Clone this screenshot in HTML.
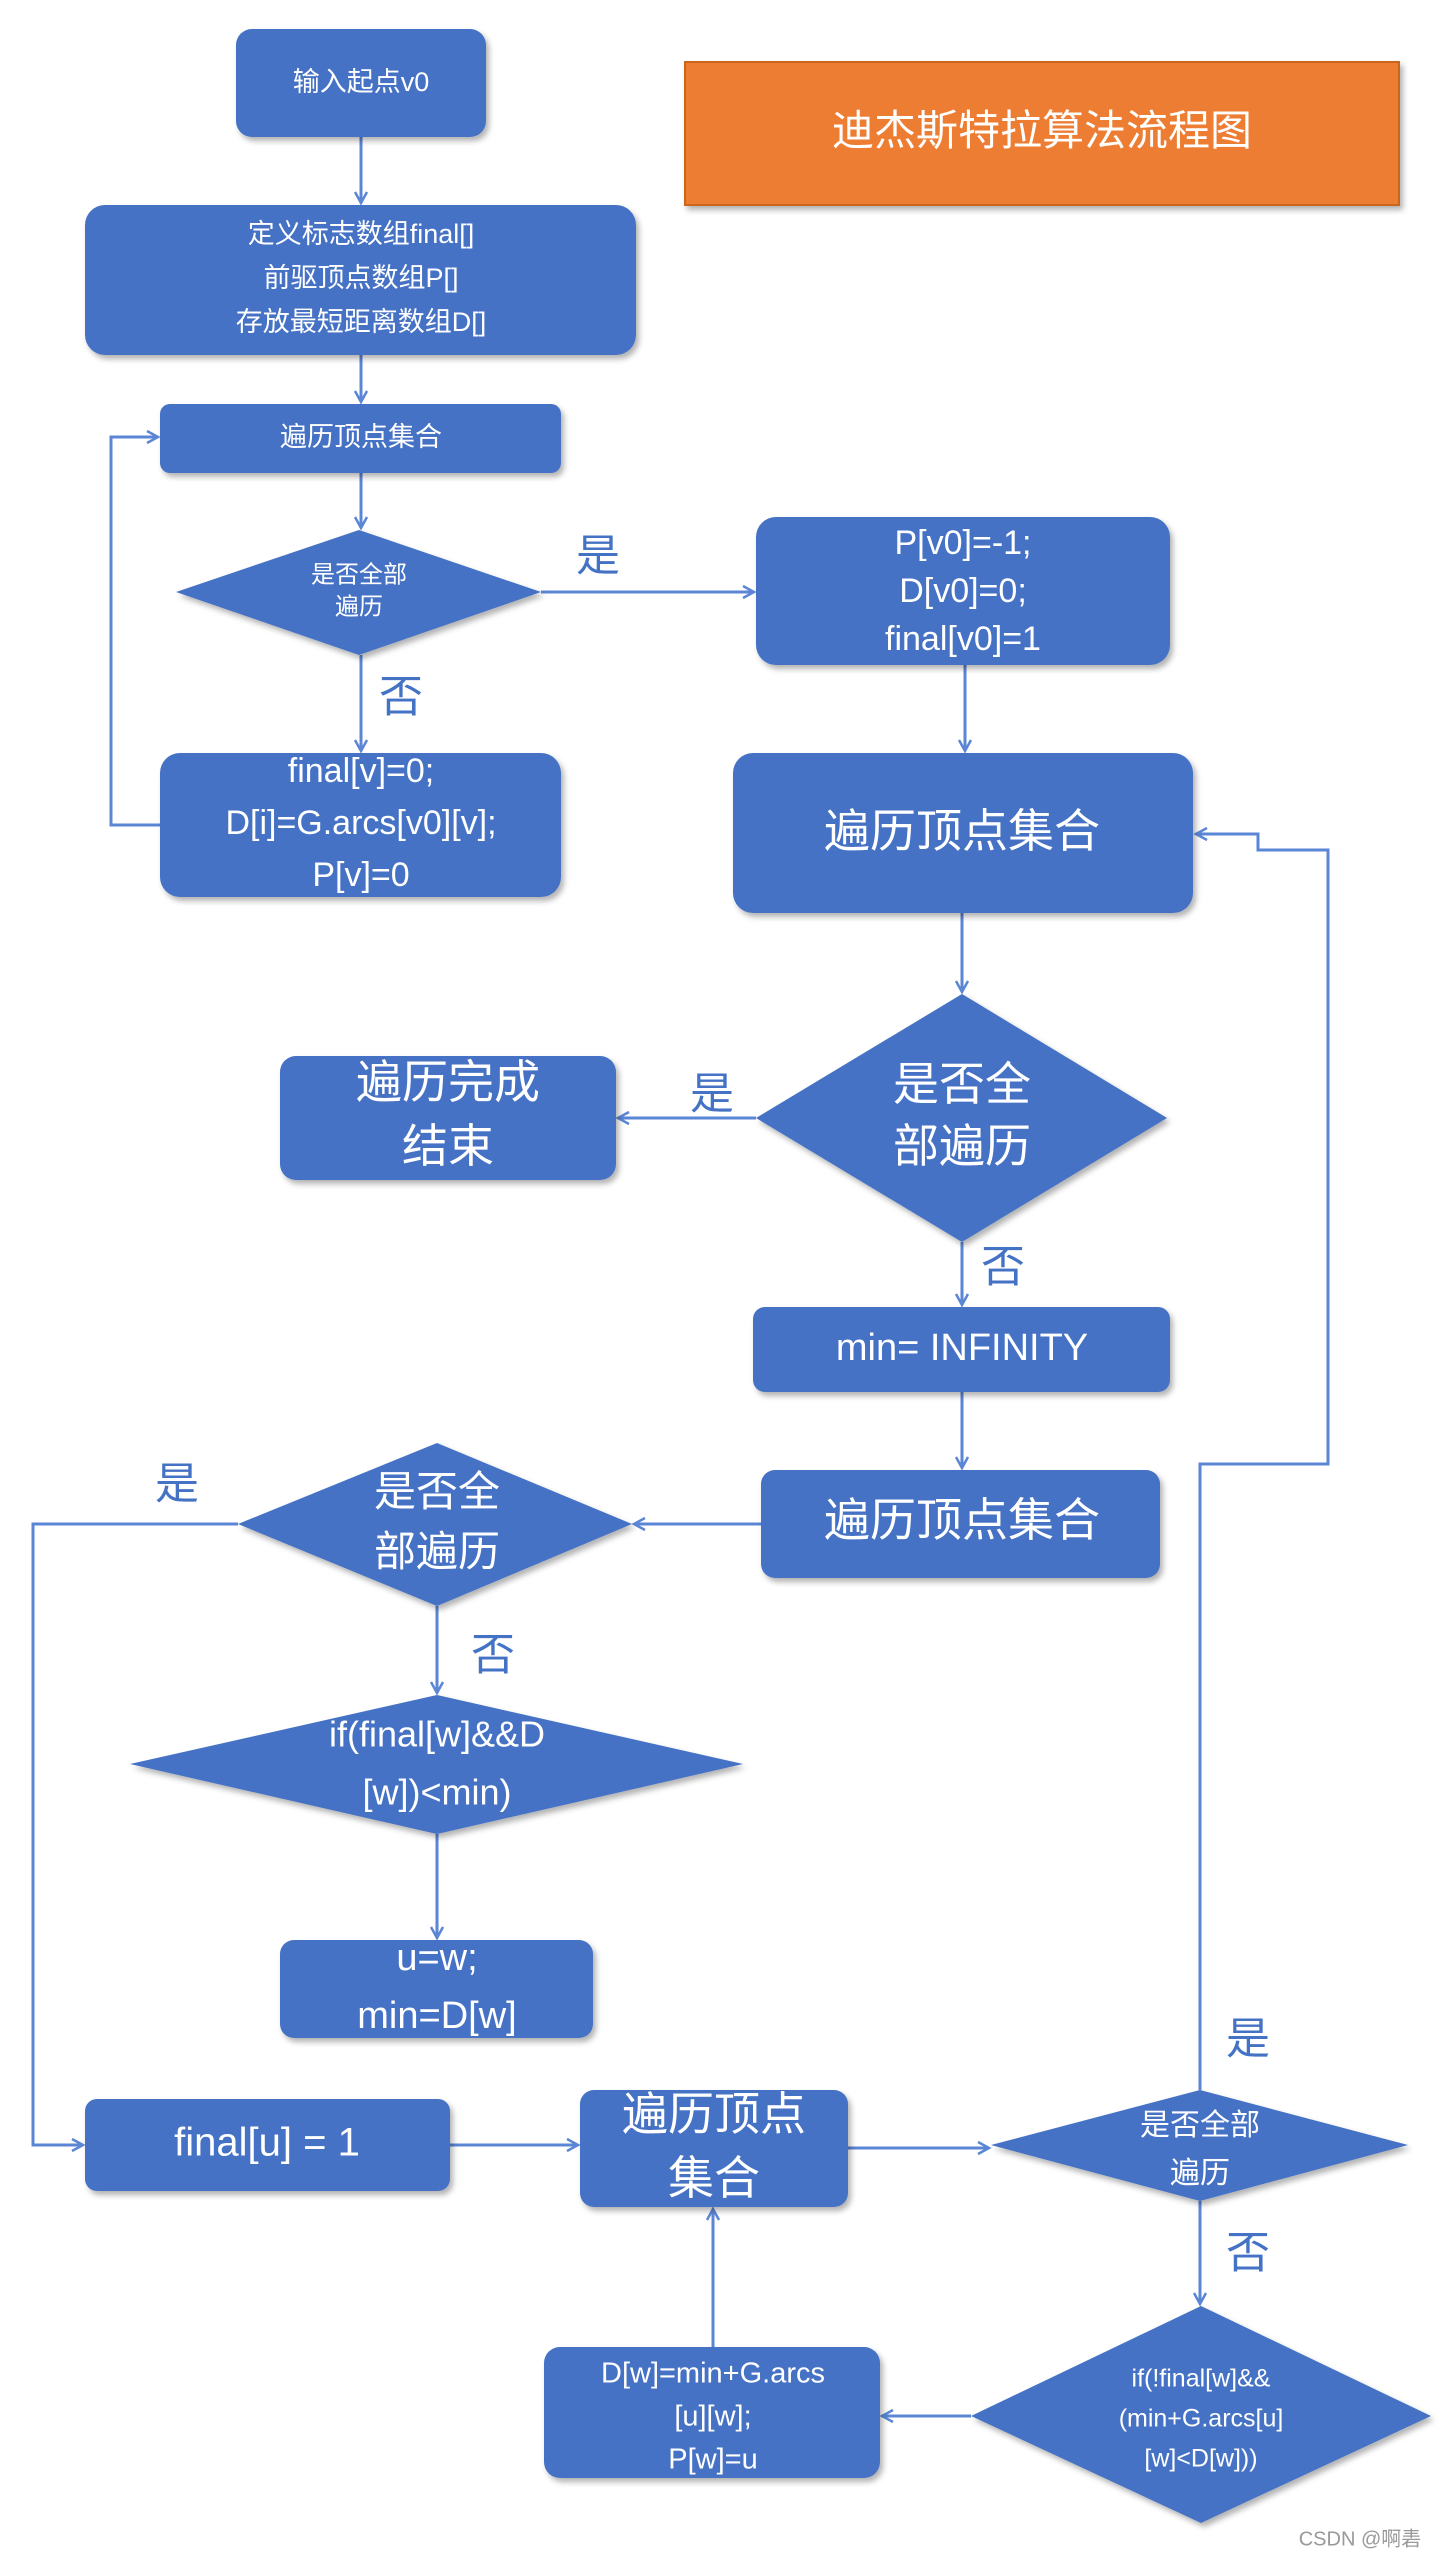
<!DOCTYPE html>
<html><head><meta charset="utf-8"><style>
html,body{margin:0;padding:0;background:#fff;}
svg{display:block;}
text{font-family:"Liberation Sans","Noto Sans CJK SC",sans-serif;fill:#fff;text-anchor:middle;dominant-baseline:middle;}
.l{fill:#4472C4;}
.b{fill:#4472C4;}
.c{stroke:#5B86D6;stroke-width:3;fill:none;}
</style></head><body>
<svg width="1440" height="2560" viewBox="0 0 1440 2560" xmlns="http://www.w3.org/2000/svg">
<defs>
<filter id="s" x="-10%" y="-10%" width="130%" height="140%"><feDropShadow dx="3" dy="4" stdDeviation="3" flood-color="#000" flood-opacity="0.3"/></filter>
<marker id="a" markerWidth="16" markerHeight="16" refX="13" refY="8" orient="auto" markerUnits="userSpaceOnUse"><path d="M2,2 L13,8 L2,14" fill="none" stroke="#5B86D6" stroke-width="2.5"/></marker>
</defs>
<g class="c" marker-end="url(#a)">
<line x1="361" y1="137" x2="361" y2="203"/>
<line x1="361" y1="355" x2="361" y2="402"/>
<line x1="361" y1="473" x2="361" y2="528"/>
<line x1="541" y1="592" x2="754" y2="592"/>
<line x1="361" y1="655" x2="361" y2="751"/>
<polyline points="160,825 111,825 111,437 158,437"/>
<line x1="965" y1="665" x2="965" y2="751"/>
<line x1="962" y1="913" x2="962" y2="992"/>
<line x1="756" y1="1118" x2="618" y2="1118"/>
<line x1="962" y1="1242" x2="962" y2="1305"/>
<line x1="962" y1="1392" x2="962" y2="1468"/>
<line x1="761" y1="1524" x2="634" y2="1524"/>
<polyline points="238,1524 33,1524 33,2145 83,2145"/>
<line x1="437" y1="1606" x2="437" y2="1693"/>
<line x1="437" y1="1834" x2="437" y2="1938"/>
<line x1="450" y1="2145" x2="578" y2="2145"/>
<line x1="848" y1="2148" x2="989" y2="2148"/>
<polyline points="1200,2090 1200,1464 1328,1464 1328,850 1258,850 1258,834 1196,834"/>
<line x1="1200" y1="2201" x2="1200" y2="2304"/>
<line x1="971" y1="2416" x2="882" y2="2416"/>
<line x1="713" y1="2347" x2="713" y2="2209"/>
</g>
<g filter="url(#s)">
<rect x="685" y="62" width="714" height="143" fill="#ED7D31" stroke="#C9661F" stroke-width="2"/>
<rect class="b" x="236" y="29" width="250" height="108" rx="16"/>
<rect class="b" x="85" y="205" width="551" height="150" rx="20"/>
<rect class="b" x="160" y="404" width="401" height="69" rx="10"/>
<polygon class="b" points="176,592 359,530 541,592 359,655"/>
<rect class="b" x="756" y="517" width="414" height="148" rx="20"/>
<rect class="b" x="160" y="753" width="401" height="144" rx="20"/>
<rect class="b" x="733" y="753" width="460" height="160" rx="20"/>
<polygon class="b" points="756,1118 962,994 1167,1118 962,1242"/>
<rect class="b" x="280" y="1056" width="336" height="124" rx="16"/>
<rect class="b" x="753" y="1307" width="417" height="85" rx="12"/>
<rect class="b" x="761" y="1470" width="399" height="108" rx="14"/>
<polygon class="b" points="238,1524 437,1443 632,1524 437,1606"/>
<polygon class="b" points="130,1764 437,1695 743,1764 437,1834"/>
<rect class="b" x="280" y="1940" width="313" height="98" rx="14"/>
<rect class="b" x="85" y="2099" width="365" height="92" rx="12"/>
<rect class="b" x="580" y="2090" width="268" height="117" rx="14"/>
<polygon class="b" points="991,2145 1200,2090 1408,2145 1200,2201"/>
<polygon class="b" points="971,2416 1201,2306 1431,2416 1201,2523"/>
<rect class="b" x="544" y="2347" width="336" height="131" rx="16"/>
</g>
<text x="1042" y="134" font-size="42">迪杰斯特拉算法流程图</text>
<text x="361" y="84" font-size="27">输入起点v0</text>
<text x="361" y="236" font-size="27">定义标志数组final[]</text>
<text x="361" y="280" font-size="27">前驱顶点数组P[]</text>
<text x="361" y="324" font-size="27">存放最短距离数组D[]</text>
<text x="361" y="439" font-size="27">遍历顶点集合</text>
<text x="359" y="576" font-size="24">是否全部</text>
<text x="359" y="608" font-size="24">遍历</text>
<text x="963" y="545" font-size="34">P[v0]=-1;</text>
<text x="963" y="593" font-size="34">D[v0]=0;</text>
<text x="963" y="641" font-size="34">final[v0]=1</text>
<text x="361" y="773" font-size="34">final[v]=0;</text>
<text x="361" y="825" font-size="34">D[i]=G.arcs[v0][v];</text>
<text x="361" y="877" font-size="34">P[v]=0</text>
<text x="962" y="835" font-size="46">遍历顶点集合</text>
<text x="962" y="1088" font-size="46">是否全</text>
<text x="962" y="1150" font-size="46">部遍历</text>
<text x="448" y="1086" font-size="46">遍历完成</text>
<text x="448" y="1150" font-size="46">结束</text>
<text x="962" y="1350" font-size="38">min= INFINITY</text>
<text x="962" y="1524" font-size="46">遍历顶点集合</text>
<text x="437" y="1495" font-size="42">是否全</text>
<text x="437" y="1555" font-size="42">部遍历</text>
<text x="437" y="1737" font-size="36">if(final[w]&amp;&amp;D</text>
<text x="437" y="1795" font-size="36">[w])&lt;min)</text>
<text x="437" y="1960" font-size="38">u=w;</text>
<text x="437" y="2018" font-size="38">min=D[w]</text>
<text x="267" y="2145" font-size="40">final[u] = 1</text>
<text x="714" y="2118" font-size="46">遍历顶点</text>
<text x="714" y="2182" font-size="46">集合</text>
<text x="1200" y="2127" font-size="30">是否全部</text>
<text x="1200" y="2175" font-size="30">遍历</text>
<text x="1201" y="2380" font-size="25">if(!final[w]&amp;&amp;</text>
<text x="1201" y="2420" font-size="25">(min+G.arcs[u]</text>
<text x="1201" y="2460" font-size="25">[w]&lt;D[w]))</text>
<text x="713" y="2375" font-size="29">D[w]=min+G.arcs</text>
<text x="713" y="2418" font-size="29">[u][w];</text>
<text x="713" y="2461" font-size="29">P[w]=u</text>
<g font-size="44">
<text class="l" x="598" y="559">是</text>
<text class="l" x="401" y="700">否</text>
<text class="l" x="712" y="1097">是</text>
<text class="l" x="1003" y="1270">否</text>
<text class="l" x="177" y="1487">是</text>
<text class="l" x="493" y="1658">否</text>
<text class="l" x="1248" y="2042">是</text>
<text class="l" x="1248" y="2256">否</text>
</g>
<text x="1360" y="2540" font-size="20" style="fill:#999">CSDN @啊砉</text>
</svg>
</body></html>
